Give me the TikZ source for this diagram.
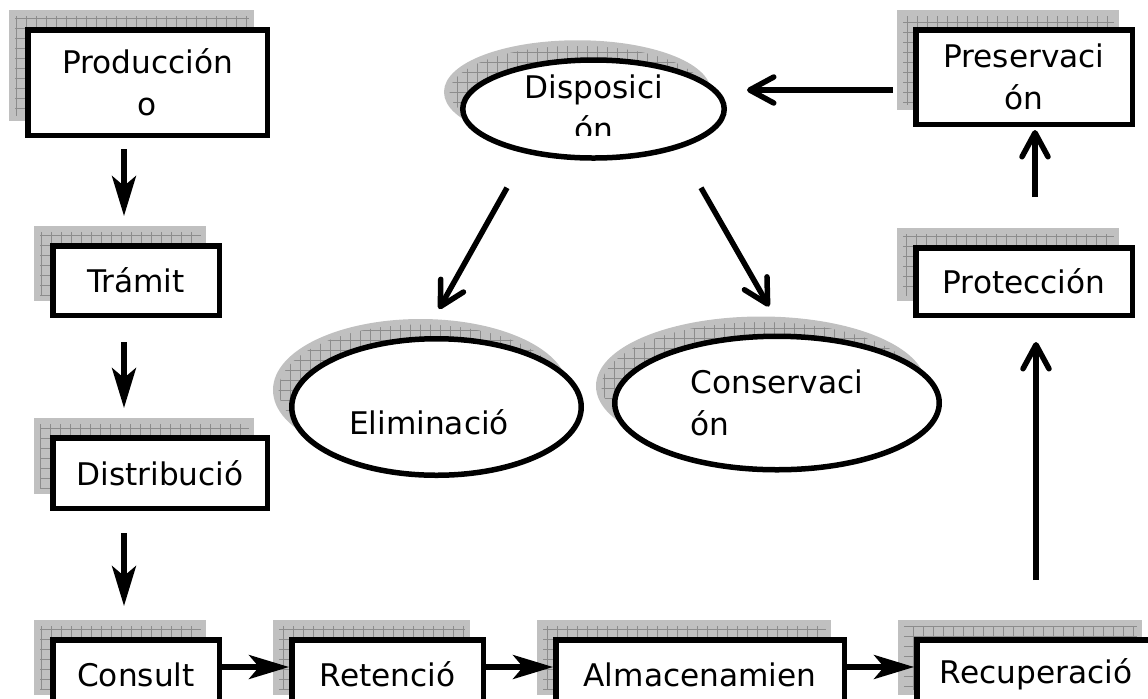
\documentclass[tikz,border=0pt]{standalone}
\usepackage{fontspec}
\setmainfont{DejaVu Sans}
\usetikzlibrary{positioning, arrows.meta, shapes.geometric, calc}
\definecolor{shadefill}{RGB}{192,192,192}
\definecolor{shadegrid}{RGB}{140,140,140}
\tikzset{
    shadowed/.style={preaction={fill=shadefill, draw=shadefill, transform canvas={shift={(-8pt,8.5pt)}}, path picture={\draw[shadegrid, line width=0.45pt, step=5pt] (path picture bounding box.south west) grid (path picture bounding box.north east);}}},
    stage/.style={rectangle, draw=black, fill=white, line width=2.75pt, inner sep=0pt, align=center, font=\fontsize{15.6}{21}\selectfont, shadowed},
    fate/.style={ellipse, draw=black, fill=white, line width=2.75pt, inner sep=0pt, align=left, font=\fontsize{15.6}{21}\selectfont, shadowed},
    lbl/.style={inner sep=0pt, align=center, font=\fontsize{15.6}{21}\selectfont},
    arrfill/.style={-{Stealth[length=20pt, width=12pt, inset=5pt]}, line width=2.6pt},
    arrbarb/.style={-{Straight Barb[length=12pt, width=13pt, line cap=round, line join=round]}, line width=2.75pt}
}
\begin{document}
\begin{tikzpicture}[x=0.5pt, y=-0.5pt]
    \clip (0,0) rectangle (1148,698);
    % life cycle, left column and bottom row
    \node[stage, minimum width=119.75pt, minimum height=52.75pt] (prod) at (147.5,82.5) {Producción\\o};
    \node[stage, minimum width=83.25pt, minimum height=34.75pt] (tram) at (136,280.5) {Trámit};
    \node[stage, minimum width=107.25pt, minimum height=35.25pt] (dist) at (160,473) {Distribució};
    \node[stage, minimum width=83.25pt, minimum height=34.75pt] (cons) at (136,674.5) {Consult};
    \node[stage, minimum width=95.75pt, minimum height=34.75pt] (ret) at (387.5,674.5) {Retenció};
    \node[stage, minimum width=144.25pt, minimum height=34.75pt] (alm) at (700,674.5) {Almacenamien};
    \node[stage, minimum width=119.25pt, minimum height=34.75pt] (recu) at (1036,674.5) {Recuperació};
    % right column
    \node[stage, minimum width=108.25pt, minimum height=33.75pt] (prot) at (1024,281.5) {Protección};
    \node[stage, minimum width=108.25pt, minimum height=47.25pt] (pres) at (1024,77) {Preservaci\\ón};
    % final disposition
    \node[fate, minimum width=130.75pt, minimum height=49pt] (disp) at (593.5,109) {};
    \begin{scope}
        \clip (440,40) rectangle (750,135);
        \node[lbl] (disptext) at (594,108) {Disposici\\ón};
    \end{scope}
    \node[fate, minimum width=144.75pt, minimum height=68.25pt] (elim) at (436.5,407) {};
    \node[lbl] (elimtext) at (429,422) {Eliminació};
    \node[fate, minimum width=162.25pt, minimum height=66.75pt] (cons2) at (777,403) {Conservaci\\ón};

    \draw[arrfill, shorten <=5.5pt, shorten >=13.5pt] ([xshift=49.5pt]prod.south west) -- ([xshift=37pt]tram.north west);
    \draw[arrfill, shorten <=12pt, shorten >=13.5pt] ([xshift=37pt]tram.south west) -- ([xshift=37pt]dist.north west);
    \draw[arrfill, shorten <=11pt, shorten >=15.5pt] ([xshift=37pt]dist.south west) -- ([xshift=37pt]cons.north west);
    \draw[arrfill] ([yshift=3.75pt]cons.east) -- ([yshift=3.75pt]ret.west);
    \draw[arrfill] ([yshift=3.75pt]ret.east) -- ([yshift=3.75pt]alm.west);
    \draw[arrfill] ([yshift=3.75pt]alm.east) -- ([yshift=3.75pt]recu.west);
    \draw[arrbarb, shorten <=28.5pt, shorten >=12pt] (recu.north) -- (recu.north |- prot.south);
    \draw[arrbarb, shorten <=24pt, shorten >=1.5pt] ([xshift=5.5pt]prot.north) -- ([xshift=5.5pt]pres.south);
    \draw[arrbarb, shorten <=10pt, shorten >=10pt] ([yshift=-6.5pt]pres.west) -- ([yshift=-6.5pt]pres.west -| disp.east);
    \draw[arrbarb] ([shift={(-43.25pt,-13.5pt)}]disp.south) -- ([shift={(1.25pt,13.5pt)}]elim.north);
    \draw[arrbarb] ([shift={(53.75pt,-13.5pt)}]disp.south) -- ([shift={(-4pt,13.5pt)}]cons2.north);
\end{tikzpicture}
\end{document}
